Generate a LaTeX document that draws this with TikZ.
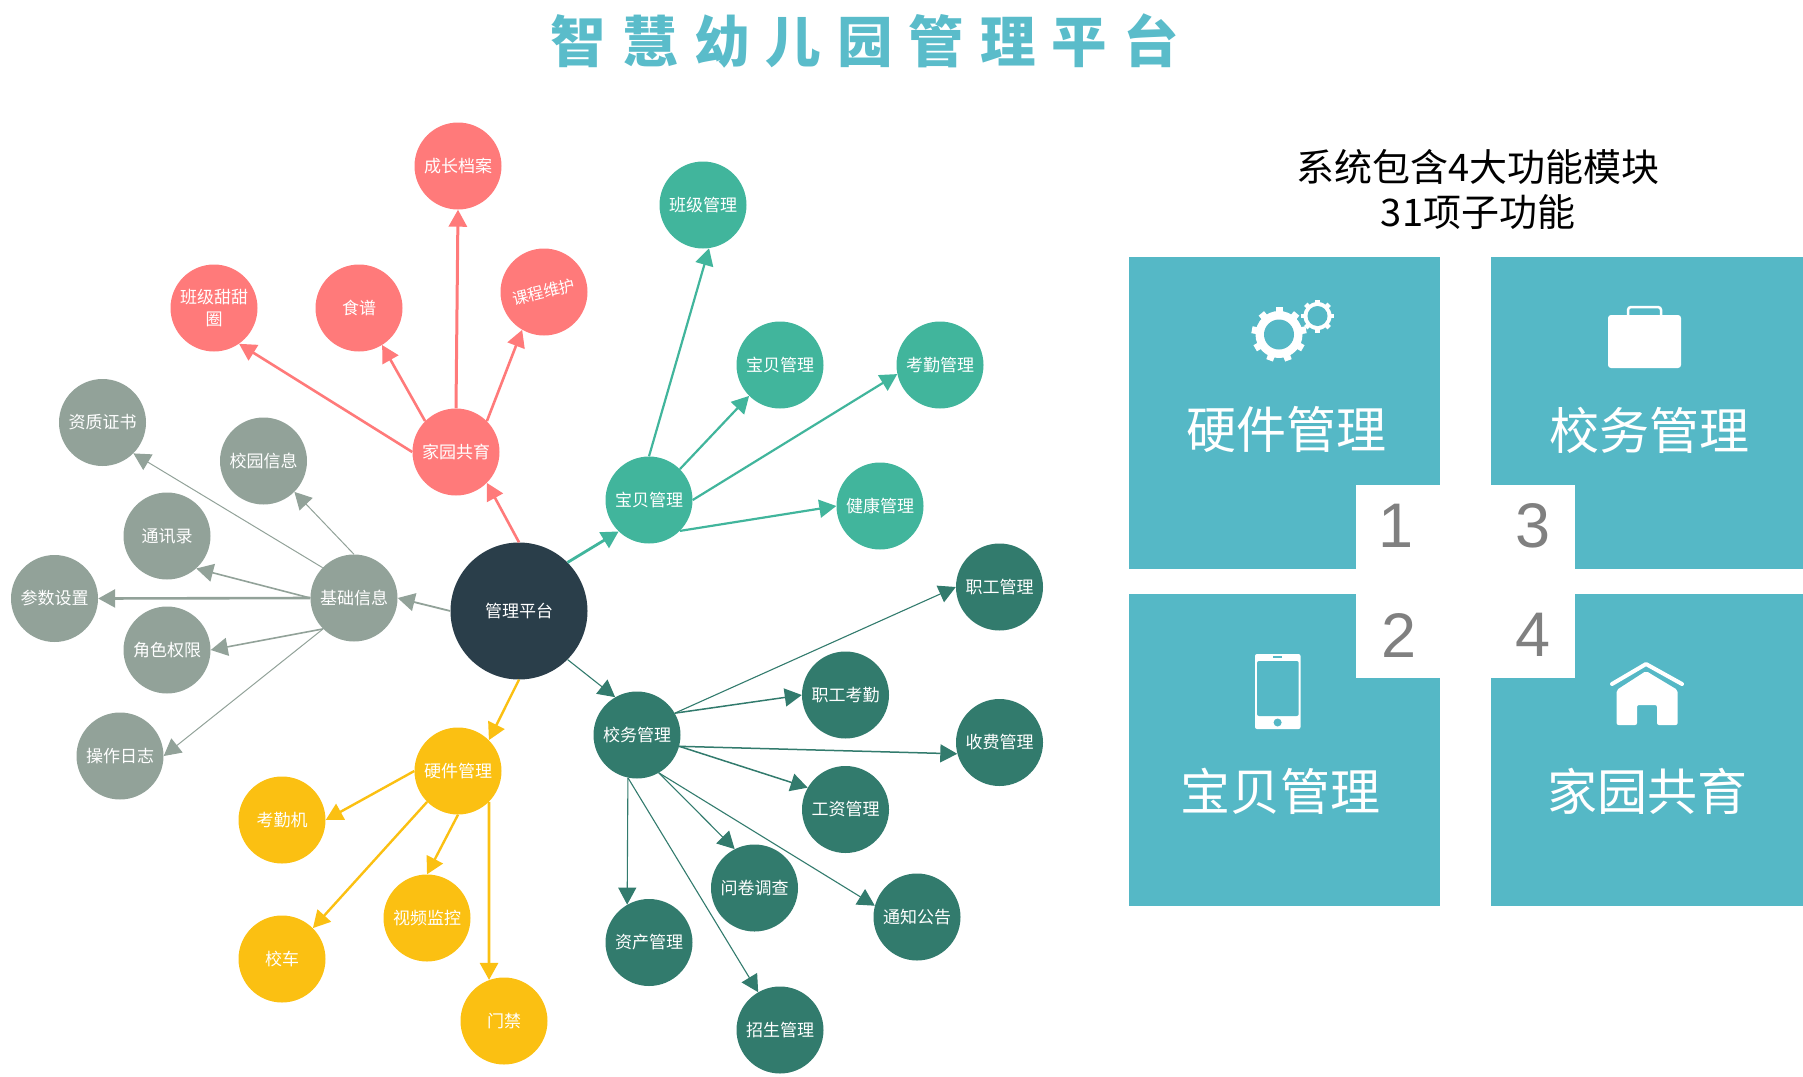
\documentclass[tikz,border=0pt]{standalone}
\usepackage{fontspec}
\setmainfont{Noto Sans CJK SC}
\newfontfamily\digitfont{Liberation Sans}
\usetikzlibrary{arrows.meta}
\definecolor{panelc}{RGB}{85,184,198}
\definecolor{titlec}{RGB}{90,188,202}
\definecolor{pinkc}{RGB}{255,122,122}
\definecolor{greenc}{RGB}{65,181,156}
\definecolor{teal2c}{RGB}{50,123,109}
\definecolor{grayc}{RGB}{146,162,153}
\definecolor{yellowc}{RGB}{251,192,18}
\definecolor{darkc}{RGB}{42,62,74}
\tikzset{
  ball/.style={circle,minimum size=87pt,inner sep=0pt,text=white,align=center,font=\fontsize{17}{22}\selectfont},
  pinkball/.style={ball,fill=pinkc},
  greenball/.style={ball,fill=greenc},
  tealball/.style={ball,fill=teal2c},
  grayball/.style={ball,fill=grayc},
  yellowball/.style={ball,fill=yellowc},
  hub/.style={ball,fill=darkc,minimum size=137pt},
  link/.style={-{Triangle[length=17pt,width=18pt]}},
  pinklink/.style={link,draw=pinkc,line width=2.6pt},
  greenlink/.style={link,draw=greenc,line width=2.2pt},
  teallink/.style={link,draw=teal2c,line width=1.1pt},
  graylink/.style={link,draw=grayc,line width=1pt},
  yellowlink/.style={link,draw=yellowc,line width=2.4pt},
  panel/.style={fill=panelc},
  notch/.style={fill=white},
  paneltext/.style={text=white,inner sep=0pt,font=\fontsize{50}{55}\selectfont},
  numtext/.style={text=black!50,inner sep=0pt,font=\digitfont\fontsize{63}{70}\selectfont},
}
\begin{document}
\begin{tikzpicture}[x=1pt,y=-1pt]
\useasboundingbox (0,0) rectangle (1803,1076);
% title
\node[inner sep=0pt,text=titlec,font=\fontsize{55.5}{60}\selectfont\bfseries\addfontfeature{LetterSpace=29}] (title) at (865,41) {智慧幼儿园管理平台};
% hub
\node[hub] (m) at (519,611) {管理平台};
% pink
\node[pinkball] (jy) at (456,452) {家园共育};
\node[pinkball] (cz) at (458,166) {成长档案};
\node[pinkball] (bj) at (214,308) {班级甜甜\\圈};
\node[pinkball] (sp) at (359,308) {食谱};
\node[pinkball] (kc) at (544,292) {\rotatebox{14}{\fontsize{16}{22}\selectfont 课程维护}};
% green
\node[greenball] (bb) at (649,500) {宝贝管理};
\node[greenball] (bg) at (703,205) {班级管理};
\node[greenball] (bc) at (780,365) {宝贝管理};
\node[greenball] (kq) at (940,365) {考勤管理};
\node[greenball] (jk) at (880,506) {健康管理};
% gray
\node[grayball] (jc) at (354,598) {基础信息};
\node[grayball] (zz) at (102.5,422.5) {资质证书};
\node[grayball] (xy) at (263.5,461) {校园信息};
\node[grayball] (tx) at (167,536) {通讯录};
\node[grayball] (cs) at (54.5,598.5) {参数设置};
\node[grayball] (js) at (167,650) {角色权限};
\node[grayball] (cz2) at (120,756) {操作日志};
% yellow
\node[yellowball] (yj) at (458,771) {硬件管理};
\node[yellowball] (kj) at (282,820) {考勤机};
\node[yellowball] (xc) at (282,959) {校车};
\node[yellowball] (sv) at (427,918) {视频监控};
\node[yellowball] (mj) at (504,1021) {门禁};
% dark teal
\node[tealball] (xw) at (637,735) {校务管理};
\node[tealball] (zg) at (999.5,587) {职工管理};
\node[tealball] (zk) at (845.5,695) {职工考勤};
\node[tealball] (sf) at (999.5,742.5) {收费管理};
\node[tealball] (gz) at (845.5,809.5) {工资管理};
\node[tealball] (wj) at (754.5,888) {问卷调查};
\node[tealball] (tz) at (917,917) {通知公告};
\node[tealball] (zc) at (649,942.5) {资产管理};
\node[tealball] (zs) at (780,1030) {招生管理};
% connectors
\draw[pinklink] (m.90) -- (jy.-45);
\draw[pinklink,line width=3pt] (jy.90) -- (cz.270);
\draw[pinklink] (jy.180) -- (bj.-55);
\draw[pinklink] (jy.135) -- (sp.-58);
\draw[pinklink] (jy.45) -- (kc.-120);
\draw[greenlink,line width=2.8pt] (m.45) -- (bb.-134);
\draw[greenlink] (bb.90) -- (bg.-82);
\draw[greenlink] (bb.45) -- (bc.225);
\draw[greenlink] (bb.0) -- (kq.192);
\draw[greenlink] (bb.-45) -- (jk.180);
\draw[graylink,line width=1.8pt] (m.180) -- (jc.0);
\draw[graylink] (jc.136) -- (zz.-45);
\draw[graylink] (jc.90) -- (xy.-45);
\draw[graylink,line width=1.6pt] (jc.180) -- (tx.-48);
\draw[graylink,line width=2.6pt] (jc.180) -- (cs.0);
\draw[graylink,line width=1.6pt] (jc.225) -- (js.0);
\draw[graylink] (jc.225) -- (cz2.0);
\draw[yellowlink] (m.270) -- (yj.45);
\draw[yellowlink] (yj.180) -- (kj.0);
\draw[yellowlink] (yj.225) -- (xc.45);
\draw[yellowlink] (yj.270) -- (sv.90);
\draw[yellowlink,line width=2.8pt] (yj.-45) -- (mj.110);
\draw[teallink] (m.-45) -- (xw.120);
\draw[teallink] (xw.30) -- (zg.180);
\draw[teallink,line width=1.5pt] (xw.30) -- (zk.180);
\draw[teallink,line width=1.5pt] (xw.-15) -- (sf.195);
\draw[teallink,line width=1.5pt] (xw.-15) -- (gz.150);
\draw[teallink] (xw.-60) -- (wj.117);
\draw[teallink] (xw.-60) -- (tz.165);
\draw[teallink] (xw.258) -- (zs.120);
\draw[teallink] (xw.258) -- (zc.120);
% heading at right
\node[inner sep=0pt,align=center,text=black,font=\fontsize{38}{45}\selectfont] (head) at (1478,189) {系统包含4大功能模块\\31项子功能};
% panels
\fill[panel] (1129,257) rectangle (1440,569);
\fill[panel] (1491,257) rectangle (1803,569);
\fill[panel] (1129,594) rectangle (1440,906);
\fill[panel] (1491,594) rectangle (1803,906);
\fill[notch] (1356,485) rectangle (1440,569);
\fill[notch] (1491,485) rectangle (1575,569);
\fill[notch] (1356,594) rectangle (1440,678);
\fill[notch] (1491,594) rectangle (1575,678);
\node[numtext] (n1) at (1396,526) {1};
\node[numtext] (n3) at (1533,526) {3};
\node[numtext] (n2) at (1398.5,635) {2};
\node[numtext] (n4) at (1533,635) {4};
\node[paneltext] (p1) at (1286,429) {硬件管理};
\node[paneltext] (p3) at (1649,430) {校务管理};
\node[paneltext] (p2) at (1280,791) {宝贝管理};
\node[paneltext] (p4) at (1647,791) {家园共育};
% gears
\foreach \a in {0,40,...,320}
  \fill[white,shift={(1279,334.5)},rotate=\a] (-3.5,-27.5) rectangle (3.5,-20);
\fill[white] (1279,334.5) circle (23.5pt);
\fill[panelc] (1279,334.5) circle (15pt);
\foreach \a in {0,45,...,315}
  \fill[white,shift={(1317.5,316)},rotate=\a] (-2.4,-16.5) rectangle (2.4,-12);
\fill[white] (1317.5,316) circle (14pt);
\fill[panelc] (1317.5,316) circle (10pt);
% briefcase
\fill[white,rounded corners=3pt] (1608,315) rectangle (1681,368);
\draw[white,line width=2.5pt,rounded corners=3pt] (1628,315) -- (1628,307) -- (1661,307) -- (1661,315);
% phone
\fill[white,rounded corners=2pt] (1255,654) rectangle (1300.5,729);
\fill[panelc,rounded corners=2pt] (1257,661) rectangle (1298.7,716);
\fill[panelc] (1277.6,722.5) circle (4pt);
\fill[panelc] (1273,656) rectangle (1282,657.5);
% house
\draw[white,line width=4pt,line cap=round,line join=round] (1612,684) -- (1646,664) -- (1682,684);
\fill[white,rounded corners=2pt] (1616.6,690) -- (1646,671) -- (1677.6,690) -- (1677.6,725) -- (1657,725) -- (1657,705) -- (1637,705) -- (1637,725) -- (1616.6,725) -- cycle;
\end{tikzpicture}
\end{document}
